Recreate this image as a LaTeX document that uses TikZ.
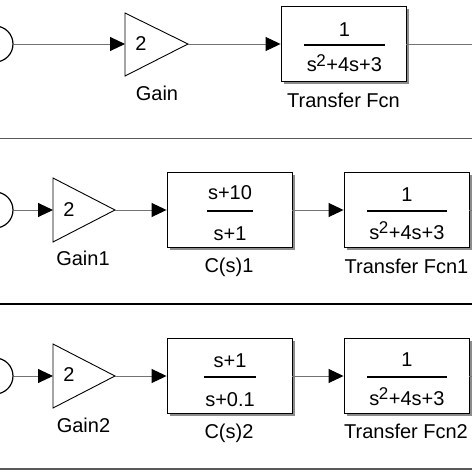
\documentclass[tikz,border=0pt]{standalone}
\usepackage{fontspec}
\setmainfont{Liberation Sans}
\usetikzlibrary{arrows.meta,shadows}
\newcommand{\sqden}{s\kern-0.5pt\raisebox{5.5pt}{\fontsize{17}{17}\selectfont 2}\kern0.5pt+4s+3}
\begin{document}
\begin{tikzpicture}[x=1pt,y=-1pt,
  txt/.style={font=\fontsize{20}{24}\selectfont, inner sep=0pt, anchor=base},
  conn/.style={draw=black!55, line width=0.9pt},
  arr/.style={conn, -{Triangle[length=15pt,width=14pt,color=black]}},
  blk/.style={draw=black, line width=0.9pt, fill=white, minimum width=125pt, minimum height=75pt, inner sep=0pt,
    drop shadow={shadow xshift=2.5pt, shadow yshift=-2.5pt, fill=black!45, opacity=1}},
  gainshape/.style={draw=black, line width=0.9pt, fill=white, line join=miter},
  port/.style={circle, draw=black, line width=1.2pt, minimum size=36pt, inner sep=0pt},
  fbar/.style={draw=black, line width=1.4pt},
  sep/.style={draw=black!65, line width=1pt},
]
\useasboundingbox (0,0) rectangle (472,472);
\clip (0,0) rectangle (472,472);
\fill[white] (0,0) rectangle (472,472);

% ---------- Row 1 ----------
\node[port] (in0) at (-5,44) {};
\draw[gainshape] (125,13) -- (188,44) -- (125,76) -- cycle;
\coordinate (g0in) at (125,44);
\coordinate (g0out) at (188,44);
\node[txt] (g0k) at (141,50) {2};
\node[txt] (g0l) at (157,100) {Gain};
\node[blk] (tf0) at (343.5,44) {};
\node[txt] (tf0n) at (344.5,36) {1};
\draw[fbar] (304,45) -- (385,45);
\node[txt] (tf0d) at (344.5,71.7) {\sqden};
\node[txt] (tf0l) at (343.5,107) {Transfer Fcn};
\coordinate (out0) at (472,44);
\draw[arr] (in0) -- (g0in);
\draw[arr] (g0out) -- (tf0);
\draw[conn] (tf0) -- (out0);

\draw[sep] (0,138) -- (472,138);

% ---------- Row 2 ----------
\node[port] (in1) at (-5,210) {};
\draw[gainshape] (53,178) -- (115,210) -- (53,242) -- cycle;
\coordinate (g1in) at (53,210);
\coordinate (g1out) at (115,210);
\node[txt] (g1k) at (69,216.7) {2};
\node[txt] (g1l) at (83,265) {Gain1};
\node[blk] (c1) at (229.5,210) {};
\node[txt] (c1n) at (230,199.3) {s+10};
\draw[fbar] (207,211) -- (253,211);
\node[txt] (c1d) at (230,240) {s+1};
\node[txt] (c1l) at (229,272.5) {C(s)1};
\node[blk] (tf1) at (406.5,210) {};
\node[txt] (tf1n) at (407,201.7) {1};
\draw[fbar] (367,211) -- (447,211);
\node[txt] (tf1d) at (407,239) {\sqden};
\node[txt] (tf1l) at (406.5,273) {Transfer Fcn1};
\coordinate (out1) at (472,210);
\draw[arr] (in1) -- (g1in);
\draw[arr] (g1out) -- (c1);
\draw[arr] (c1) -- (tf1);
\draw[conn] (tf1) -- (out1);

\draw[draw=black, line width=2.5pt] (0,304) -- (472,304);

% ---------- Row 3 ----------
\node[port] (in2) at (-5,376) {};
\draw[gainshape] (53,344) -- (115,376) -- (53,408) -- cycle;
\coordinate (g2in) at (53,376);
\coordinate (g2out) at (115,376);
\node[txt] (g2k) at (69,381.7) {2};
\node[txt] (g2l) at (83.5,432.7) {Gain2};
\node[blk] (c2) at (229.5,376) {};
\node[txt] (c2n) at (230,367.3) {s+1};
\draw[fbar] (204,377) -- (256,377);
\node[txt] (c2d) at (230,406) {s+0.1};
\node[txt] (c2l) at (229,438) {C(s)2};
\node[blk] (tf2) at (406.5,376) {};
\node[txt] (tf2n) at (407,366.7) {1};
\draw[fbar] (367,377) -- (447,377);
\node[txt] (tf2d) at (407,405) {\sqden};
\node[txt] (tf2l) at (406,438) {Transfer Fcn2};
\coordinate (out2) at (472,376);
\draw[arr] (in2) -- (g2in);
\draw[arr] (g2out) -- (c2);
\draw[arr] (c2) -- (tf2);
\draw[conn] (tf2) -- (out2);

\draw[sep, line width=1.5pt] (0,469) -- (472,469);
\end{tikzpicture}
\end{document}
